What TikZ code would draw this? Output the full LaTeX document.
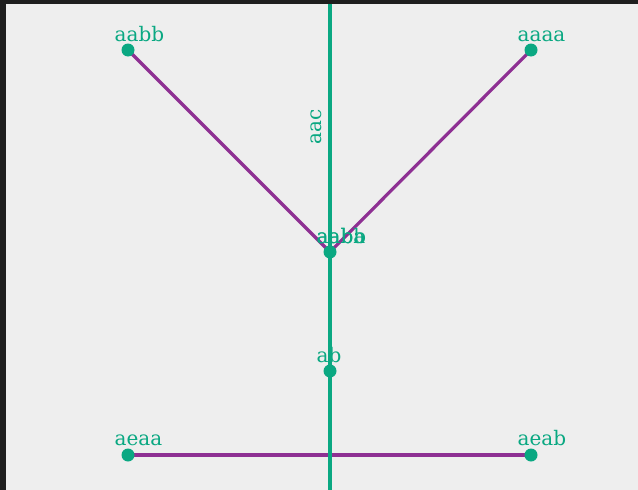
\documentclass[tikz,border=0pt]{standalone}
\usepackage{fontspec}
\setmainfont{DejaVu Serif}
\definecolor{bgdark}{HTML}{1E1E1E}
\definecolor{bglight}{HTML}{EEEEEE}
\definecolor{tgreen}{HTML}{0AA882}
\definecolor{tpurple}{HTML}{8E3093}
\begin{document}
\begin{tikzpicture}[x=1pt,y=-1pt,
  dot/.style={circle,fill=tgreen,inner sep=0pt,minimum size=13pt},
  lbl/.style={anchor=base west,inner sep=0pt,text=tgreen,font=\fontsize{20}{21}\selectfont},
  pedge/.style={draw=tpurple,line width=3.2pt},
  gedge/.style={draw=tgreen,line width=3.2pt}]
\useasboundingbox (0,0) rectangle (638,490);
\fill[bgdark] (0,0) rectangle (638,490);
\fill[bglight] (6,4) rectangle (638,490);
% node positions
\coordinate (paabb) at (128,50);
\coordinate (paaaa) at (531,50);
\coordinate (pc) at (330,252);
\coordinate (pab) at (330,371);
\coordinate (paeaa) at (128,455);
\coordinate (paeab) at (531,455);
\coordinate (gtop) at (330,4);
\coordinate (gbot) at (330,490);
% edges
\draw[pedge] (paabb) -- (pc);
\draw[pedge] (paaaa) -- (pc);
\draw[pedge] (paeaa) -- (paeab);
\draw[gedge] (gtop) -- (gbot);
% dots
\node[dot] (naabb) at (paabb) {};
\node[dot] (naaaa) at (paaaa) {};
\node[dot] (nc) at (pc) {};
\node[dot] (nab) at (pab) {};
\node[dot] (naeaa) at (paeaa) {};
\node[dot] (naeab) at (paeab) {};
% labels
\node[lbl] (laabb) at (114.5,41.5) {aabb};
\node[lbl] (laaaa) at (517.5,41.5) {aaaa};
\node[lbl] (lc1) at (316.5,243.5) {aabb};
\node[lbl] (lc2) at (316.5,243.5) {aaba};
\node[lbl] (lab) at (316.5,362.5) {ab};
\node[lbl] (laeaa) at (114.5,445.5) {aeaa};
\node[lbl] (laeab) at (517.5,445.5) {aeab};
\node[lbl,rotate=90] (laac) at (321.5,145) {aac};
\end{tikzpicture}
\end{document}
